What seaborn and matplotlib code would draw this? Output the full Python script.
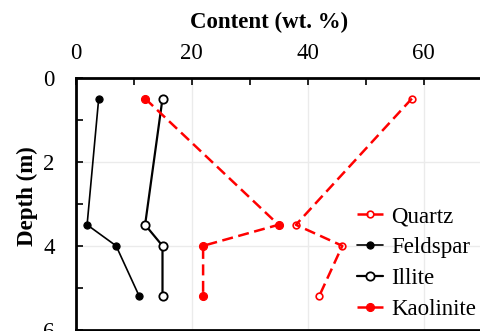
import matplotlib
matplotlib.use("Agg")
import matplotlib.pyplot as plt
import seaborn as sns
import pandas as pd
from matplotlib.ticker import MultipleLocator, FixedLocator

depth = [0.5, 3.5, 4.0, 5.2]
quartz = [58, 38, 46, 42]
feldspar = [4, 2, 7, 11]
illite = [15, 12, 15, 15]
kaolinite = [12, 35, 22, 22]
x_ticks = [0, 20, 40, 60]
x_minor = [10, 30, 50]

sns.set_theme(style="white")
plt.rcParams['font.family'] = ['Liberation Serif', 'DejaVu Serif']
plt.rcParams['mathtext.fontset'] = 'stix'
plt.rcParams['text.color'] = 'black'
plt.rcParams['axes.labelcolor'] = 'black'

FS = 16.5

fig = plt.figure(figsize=(4.81, 3.31), dpi=100)
ax = fig.add_axes([75.5/481, 1 - 330/331, 464/481, (330 - 77.5)/331])

red_dash = (0, (4.4, 2.2))
series = [
    ("Quartz", quartz, dict(color="red", linestyle=red_dash, linewidth=1.8,
                            marker="o", markersize=4.8, markerfacecolor="none",
                            markeredgecolor="red", markeredgewidth=1.2)),
    ("Feldspar", feldspar, dict(color="black", linestyle="-", linewidth=1.2,
                                marker="o", markersize=5.2, markerfacecolor="black",
                                markeredgecolor="black")),
    ("Illite", illite, dict(color="black", linestyle="-", linewidth=1.6,
                            marker="o", markersize=6, markerfacecolor="white",
                            markeredgecolor="black", markeredgewidth=1.3)),
    ("Kaolinite", kaolinite, dict(color="red", linestyle=red_dash, linewidth=1.8,
                                  marker="o", markersize=5.8, markerfacecolor="red",
                                  markeredgecolor="red")),
]

for name, vals, kw in series:
    df = pd.DataFrame({"content": vals, "depth": depth})
    sns.lineplot(data=df, x="content", y="depth", sort=False, estimator=None,
                 ax=ax, label=name, **kw)

ax.set_xlim(0, 80)
ax.set_ylim(6, 0)
ax.xaxis.set_major_locator(FixedLocator(x_ticks))
ax.xaxis.set_minor_locator(FixedLocator(x_minor))
ax.yaxis.set_major_locator(MultipleLocator(2))
ax.yaxis.set_minor_locator(MultipleLocator(1))
ax.xaxis.tick_top()
ax.xaxis.set_label_position("top")
ax.tick_params(axis="both", which="both", direction="in", length=5, width=1.2,
               labelsize=FS, color="black", labelcolor="black")
ax.tick_params(axis="x", which="both", top=True, bottom=False, pad=10)
ax.tick_params(axis="y", which="both", left=True, right=False, pad=15)
ax.grid(True, which="major", color="#ebebeb", linewidth=1.0)
for side in ["top", "left", "right", "bottom"]:
    ax.spines[side].set_linewidth(2)
    ax.spines[side].set_color("black")

ax.set_xlabel("Content (wt. %)", fontsize=FS, fontweight="bold", labelpad=10.5,
              color="black")
ax.set_ylabel("Depth (m)", fontsize=FS, fontweight="bold", labelpad=4,
              color="black")
ax.xaxis.label.set_x((269 - 75.5) / 464)
ax.yaxis.label.set_y(1 - (196.5 - 77.5) / 252.5)

leg = ax.legend(loc="upper left", bbox_to_anchor=(357/481, 1 - 206/331),
                bbox_transform=fig.transFigure, frameon=False, fontsize=FS,
                handlelength=1.15, handletextpad=0.36, labelspacing=0.43,
                borderpad=0, borderaxespad=0, labelcolor="black")

fig.savefig("out.png", dpi=100)
